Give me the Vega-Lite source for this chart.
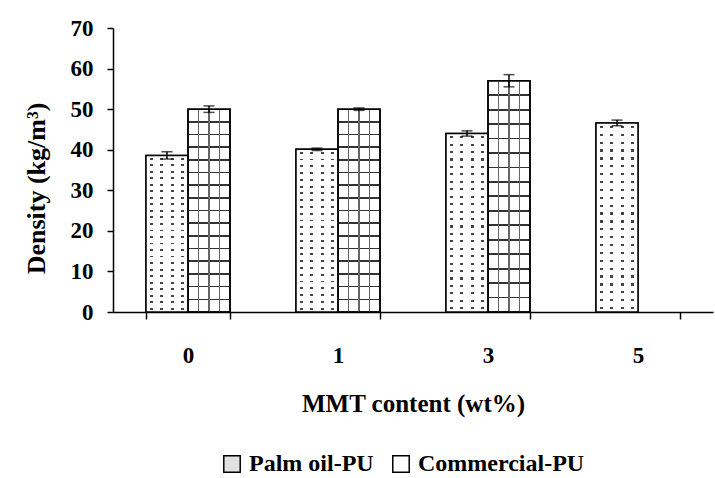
{
  "$schema": "https://vega.github.io/schema/vega-lite/v6.json",
  "width": 600,
  "height": 284,
  "autosize": "none",
  "padding": {"left": 113, "top": 28, "right": 2, "bottom": 166},
  "background": "white",
  "data": {
    "values": [
      {"mmt": "0", "group": "Palm oil-PU", "density": 38.6, "low": 37.7, "high": 39.5},
      {"mmt": "0", "group": "Commercial-PU", "density": 50.0, "low": 49.2, "high": 50.8},
      {"mmt": "1", "group": "Palm oil-PU", "density": 40.1, "low": 39.8, "high": 40.4},
      {"mmt": "1", "group": "Commercial-PU", "density": 50.0, "low": 49.7, "high": 50.3},
      {"mmt": "3", "group": "Palm oil-PU", "density": 44.0, "low": 43.35, "high": 44.65},
      {"mmt": "3", "group": "Commercial-PU", "density": 57.0, "low": 55.5, "high": 58.5},
      {"mmt": "5", "group": "Palm oil-PU", "density": 46.6, "low": 45.9, "high": 47.3}
    ]
  },
  "encoding": {
    "x": {
      "field": "mmt", "type": "nominal",
      "scale": {"domain": ["0", "1", "3", "5"], "paddingInner": 0.44, "paddingOuter": 0.22},
      "axis": {
        "title": "MMT content (wt%)", "labelAngle": 0, "tickBand": "extent",
        "domainColor": "black", "tickColor": "black", "tickSize": 7, "domainWidth": 1.5, "tickWidth": 1.5,
        "labelPadding": 25, "titlePadding": 24,
        "labelFont": "Liberation Serif", "labelFontSize": 23, "labelFontWeight": "bold", "labelColor": "black",
        "titleFont": "Liberation Serif", "titleFontSize": 25, "titleFontWeight": "bold", "titleColor": "black"
      }
    },
    "xOffset": {"field": "group", "type": "nominal", "scale": {"domain": ["Palm oil-PU", "Commercial-PU"], "paddingInner": 0, "paddingOuter": 0}}
  },
  "layer": [
    {
      "mark": {"type": "bar", "stroke": "black", "strokeWidth": 1.5},
      "encoding": {
        "y": {
          "field": "density", "type": "quantitative",
          "scale": {"domain": [0, 70], "nice": false},
          "axis": {
            "title": "Density (kg/m³)", "values": [0, 10, 20, 30, 40, 50, 60, 70], "grid": false,
            "domainColor": "black", "tickColor": "black", "tickSize": 6, "domainWidth": 1.5, "tickWidth": 1.5,
            "labelPadding": 14,
            "titleX": -77, "titleY": 160, "titleBaseline": "middle", "titleAlign": "center", "titleAngle": -90,
            "labelFont": "Liberation Serif", "labelFontSize": 23, "labelFontWeight": "bold", "labelColor": "black",
            "titleFont": "Liberation Serif", "titleFontSize": 26, "titleFontWeight": "bold", "titleColor": "black"
          }
        },
        "fill": {
          "field": "group", "type": "nominal",
          "scale": {"domain": ["Palm oil-PU", "Commercial-PU"], "range": ["#e2e2e2", "#ffffff"]},
          "legend": {
            "title": null, "orient": "none", "direction": "horizontal", "legendX": 107, "legendY": 424,
            "symbolType": "square", "symbolSize": 270, "symbolStrokeColor": "black", "symbolStrokeWidth": 1.5,
            "labelFont": "Liberation Serif", "labelFontSize": 24, "labelFontWeight": "bold", "labelColor": "black", "labelLimit": 400, "columnPadding": 15, "labelOffset": 5
          }
        }
      }
    },
    {
      "transform": [{"filter": "datum.group === 'Palm oil-PU'"}],
      "mark": {
        "type": "bar",
        "fill": {
          "gradient": "linear", "x1": 0, "y1": 0, "x2": 0, "y2": 1,
          "stops": [
            {"offset": 0, "color": "#ffffff"},
            {"offset": 0.0148, "color": "#ffffff"}, {"offset": 0.0148, "color": "#444444"}, {"offset": 0.0268, "color": "#444444"}, {"offset": 0.0268, "color": "#ffffff"},
            {"offset": 0.0565, "color": "#ffffff"}, {"offset": 0.0565, "color": "#444444"}, {"offset": 0.0685, "color": "#444444"}, {"offset": 0.0685, "color": "#ffffff"},
            {"offset": 0.0982, "color": "#ffffff"}, {"offset": 0.0982, "color": "#444444"}, {"offset": 0.1102, "color": "#444444"}, {"offset": 0.1102, "color": "#ffffff"},
            {"offset": 0.1398, "color": "#ffffff"}, {"offset": 0.1398, "color": "#444444"}, {"offset": 0.1518, "color": "#444444"}, {"offset": 0.1518, "color": "#ffffff"},
            {"offset": 0.1815, "color": "#ffffff"}, {"offset": 0.1815, "color": "#444444"}, {"offset": 0.1935, "color": "#444444"}, {"offset": 0.1935, "color": "#ffffff"},
            {"offset": 0.2232, "color": "#ffffff"}, {"offset": 0.2232, "color": "#444444"}, {"offset": 0.2352, "color": "#444444"}, {"offset": 0.2352, "color": "#ffffff"},
            {"offset": 0.2648, "color": "#ffffff"}, {"offset": 0.2648, "color": "#444444"}, {"offset": 0.2768, "color": "#444444"}, {"offset": 0.2768, "color": "#ffffff"},
            {"offset": 0.3065, "color": "#ffffff"}, {"offset": 0.3065, "color": "#444444"}, {"offset": 0.3185, "color": "#444444"}, {"offset": 0.3185, "color": "#ffffff"},
            {"offset": 0.3482, "color": "#ffffff"}, {"offset": 0.3482, "color": "#444444"}, {"offset": 0.3602, "color": "#444444"}, {"offset": 0.3602, "color": "#ffffff"},
            {"offset": 0.3898, "color": "#ffffff"}, {"offset": 0.3898, "color": "#444444"}, {"offset": 0.4018, "color": "#444444"}, {"offset": 0.4018, "color": "#ffffff"},
            {"offset": 0.4315, "color": "#ffffff"}, {"offset": 0.4315, "color": "#444444"}, {"offset": 0.4435, "color": "#444444"}, {"offset": 0.4435, "color": "#ffffff"},
            {"offset": 0.4732, "color": "#ffffff"}, {"offset": 0.4732, "color": "#444444"}, {"offset": 0.4852, "color": "#444444"}, {"offset": 0.4852, "color": "#ffffff"},
            {"offset": 0.5148, "color": "#ffffff"}, {"offset": 0.5148, "color": "#444444"}, {"offset": 0.5268, "color": "#444444"}, {"offset": 0.5268, "color": "#ffffff"},
            {"offset": 0.5565, "color": "#ffffff"}, {"offset": 0.5565, "color": "#444444"}, {"offset": 0.5685, "color": "#444444"}, {"offset": 0.5685, "color": "#ffffff"},
            {"offset": 0.5982, "color": "#ffffff"}, {"offset": 0.5982, "color": "#444444"}, {"offset": 0.6102, "color": "#444444"}, {"offset": 0.6102, "color": "#ffffff"},
            {"offset": 0.6398, "color": "#ffffff"}, {"offset": 0.6398, "color": "#444444"}, {"offset": 0.6518, "color": "#444444"}, {"offset": 0.6518, "color": "#ffffff"},
            {"offset": 0.6815, "color": "#ffffff"}, {"offset": 0.6815, "color": "#444444"}, {"offset": 0.6935, "color": "#444444"}, {"offset": 0.6935, "color": "#ffffff"},
            {"offset": 0.7232, "color": "#ffffff"}, {"offset": 0.7232, "color": "#444444"}, {"offset": 0.7352, "color": "#444444"}, {"offset": 0.7352, "color": "#ffffff"},
            {"offset": 0.7648, "color": "#ffffff"}, {"offset": 0.7648, "color": "#444444"}, {"offset": 0.7768, "color": "#444444"}, {"offset": 0.7768, "color": "#ffffff"},
            {"offset": 0.8065, "color": "#ffffff"}, {"offset": 0.8065, "color": "#444444"}, {"offset": 0.8185, "color": "#444444"}, {"offset": 0.8185, "color": "#ffffff"},
            {"offset": 0.8482, "color": "#ffffff"}, {"offset": 0.8482, "color": "#444444"}, {"offset": 0.8602, "color": "#444444"}, {"offset": 0.8602, "color": "#ffffff"},
            {"offset": 0.8898, "color": "#ffffff"}, {"offset": 0.8898, "color": "#444444"}, {"offset": 0.9018, "color": "#444444"}, {"offset": 0.9018, "color": "#ffffff"},
            {"offset": 0.9315, "color": "#ffffff"}, {"offset": 0.9315, "color": "#444444"}, {"offset": 0.9435, "color": "#444444"}, {"offset": 0.9435, "color": "#ffffff"},
            {"offset": 0.9732, "color": "#ffffff"}, {"offset": 0.9732, "color": "#444444"}, {"offset": 0.9852, "color": "#444444"}, {"offset": 0.9852, "color": "#ffffff"},
            {"offset": 1, "color": "#ffffff"}
          ]
        }
      },
      "encoding": {"y": {"field": "density", "type": "quantitative"}}
    },
    {
      "transform": [{"filter": "datum.group === 'Palm oil-PU'"}],
      "mark": {
        "type": "bar", "stroke": "black", "strokeWidth": 1.5,
        "fill": {
          "gradient": "linear", "x1": 0, "y1": 0, "x2": 1, "y2": 0,
          "stops": [
            {"offset": 0, "color": "#ffffff"},
            {"offset": 0.095, "color": "#ffffff"}, {"offset": 0.095, "color": "rgba(255,255,255,0)"}, {"offset": 0.155, "color": "rgba(255,255,255,0)"}, {"offset": 0.155, "color": "#ffffff"},
            {"offset": 0.345, "color": "#ffffff"}, {"offset": 0.345, "color": "rgba(255,255,255,0)"}, {"offset": 0.405, "color": "rgba(255,255,255,0)"}, {"offset": 0.405, "color": "#ffffff"},
            {"offset": 0.595, "color": "#ffffff"}, {"offset": 0.595, "color": "rgba(255,255,255,0)"}, {"offset": 0.655, "color": "rgba(255,255,255,0)"}, {"offset": 0.655, "color": "#ffffff"},
            {"offset": 0.845, "color": "#ffffff"}, {"offset": 0.845, "color": "rgba(255,255,255,0)"}, {"offset": 0.905, "color": "rgba(255,255,255,0)"}, {"offset": 0.905, "color": "#ffffff"},
            {"offset": 1, "color": "#ffffff"}
          ]
        }
      },
      "encoding": {"y": {"field": "density", "type": "quantitative"}}
    },
    {
      "transform": [{"filter": "datum.group === 'Commercial-PU'"}],
      "mark": {
        "type": "bar",
        "fill": {
          "gradient": "linear", "x1": 0, "y1": 0, "x2": 0, "y2": 1,
          "stops": [
            {"offset": 0, "color": "rgba(255,255,255,0)"},
            {"offset": 0.0585, "color": "rgba(255,255,255,0)"}, {"offset": 0.0585, "color": "#333333"}, {"offset": 0.0665, "color": "#333333"}, {"offset": 0.0665, "color": "rgba(255,255,255,0)"},
            {"offset": 0.121, "color": "rgba(255,255,255,0)"}, {"offset": 0.121, "color": "#333333"}, {"offset": 0.129, "color": "#333333"}, {"offset": 0.129, "color": "rgba(255,255,255,0)"},
            {"offset": 0.1835, "color": "rgba(255,255,255,0)"}, {"offset": 0.1835, "color": "#333333"}, {"offset": 0.1915, "color": "#333333"}, {"offset": 0.1915, "color": "rgba(255,255,255,0)"},
            {"offset": 0.246, "color": "rgba(255,255,255,0)"}, {"offset": 0.246, "color": "#333333"}, {"offset": 0.254, "color": "#333333"}, {"offset": 0.254, "color": "rgba(255,255,255,0)"},
            {"offset": 0.3085, "color": "rgba(255,255,255,0)"}, {"offset": 0.3085, "color": "#333333"}, {"offset": 0.3165, "color": "#333333"}, {"offset": 0.3165, "color": "rgba(255,255,255,0)"},
            {"offset": 0.371, "color": "rgba(255,255,255,0)"}, {"offset": 0.371, "color": "#333333"}, {"offset": 0.379, "color": "#333333"}, {"offset": 0.379, "color": "rgba(255,255,255,0)"},
            {"offset": 0.4335, "color": "rgba(255,255,255,0)"}, {"offset": 0.4335, "color": "#333333"}, {"offset": 0.4415, "color": "#333333"}, {"offset": 0.4415, "color": "rgba(255,255,255,0)"},
            {"offset": 0.496, "color": "rgba(255,255,255,0)"}, {"offset": 0.496, "color": "#333333"}, {"offset": 0.504, "color": "#333333"}, {"offset": 0.504, "color": "rgba(255,255,255,0)"},
            {"offset": 0.5585, "color": "rgba(255,255,255,0)"}, {"offset": 0.5585, "color": "#333333"}, {"offset": 0.5665, "color": "#333333"}, {"offset": 0.5665, "color": "rgba(255,255,255,0)"},
            {"offset": 0.621, "color": "rgba(255,255,255,0)"}, {"offset": 0.621, "color": "#333333"}, {"offset": 0.629, "color": "#333333"}, {"offset": 0.629, "color": "rgba(255,255,255,0)"},
            {"offset": 0.6835, "color": "rgba(255,255,255,0)"}, {"offset": 0.6835, "color": "#333333"}, {"offset": 0.6915, "color": "#333333"}, {"offset": 0.6915, "color": "rgba(255,255,255,0)"},
            {"offset": 0.746, "color": "rgba(255,255,255,0)"}, {"offset": 0.746, "color": "#333333"}, {"offset": 0.754, "color": "#333333"}, {"offset": 0.754, "color": "rgba(255,255,255,0)"},
            {"offset": 0.8085, "color": "rgba(255,255,255,0)"}, {"offset": 0.8085, "color": "#333333"}, {"offset": 0.8165, "color": "#333333"}, {"offset": 0.8165, "color": "rgba(255,255,255,0)"},
            {"offset": 0.871, "color": "rgba(255,255,255,0)"}, {"offset": 0.871, "color": "#333333"}, {"offset": 0.879, "color": "#333333"}, {"offset": 0.879, "color": "rgba(255,255,255,0)"},
            {"offset": 0.9335, "color": "rgba(255,255,255,0)"}, {"offset": 0.9335, "color": "#333333"}, {"offset": 0.9415, "color": "#333333"}, {"offset": 0.9415, "color": "rgba(255,255,255,0)"},
            {"offset": 1, "color": "rgba(255,255,255,0)"}
          ]
        }
      },
      "encoding": {"y": {"field": "density", "type": "quantitative"}}
    },
    {
      "transform": [{"filter": "datum.group === 'Commercial-PU'"}],
      "mark": {
        "type": "bar", "stroke": "black", "strokeWidth": 1.5,
        "fill": {
          "gradient": "linear", "x1": 0, "y1": 0, "x2": 1, "y2": 0,
          "stops": [
            {"offset": 0, "color": "rgba(255,255,255,0)"},
            {"offset": 0.232, "color": "rgba(255,255,255,0)"}, {"offset": 0.232, "color": "#666666"}, {"offset": 0.268, "color": "#666666"}, {"offset": 0.268, "color": "rgba(255,255,255,0)"},
            {"offset": 0.482, "color": "rgba(255,255,255,0)"}, {"offset": 0.482, "color": "#666666"}, {"offset": 0.518, "color": "#666666"}, {"offset": 0.518, "color": "rgba(255,255,255,0)"},
            {"offset": 0.732, "color": "rgba(255,255,255,0)"}, {"offset": 0.732, "color": "#666666"}, {"offset": 0.768, "color": "#666666"}, {"offset": 0.768, "color": "rgba(255,255,255,0)"},
            {"offset": 1, "color": "rgba(255,255,255,0)"}
          ]
        }
      },
      "encoding": {"y": {"field": "density", "type": "quantitative"}}
    },
    {
      "mark": {"type": "rule", "color": "black", "strokeWidth": 1.5},
      "encoding": {
        "y": {"field": "low", "type": "quantitative"},
        "y2": {"field": "high"}
      }
    },
    {
      "mark": {"type": "tick", "color": "black", "orient": "horizontal", "size": 11, "thickness": 1.5},
      "encoding": {"y": {"field": "high", "type": "quantitative"}}
    },
    {
      "mark": {"type": "tick", "color": "black", "orient": "horizontal", "size": 11, "thickness": 1.5},
      "encoding": {"y": {"field": "low", "type": "quantitative"}}
    }
  ],
  "config": {"view": {"stroke": null}}
}
